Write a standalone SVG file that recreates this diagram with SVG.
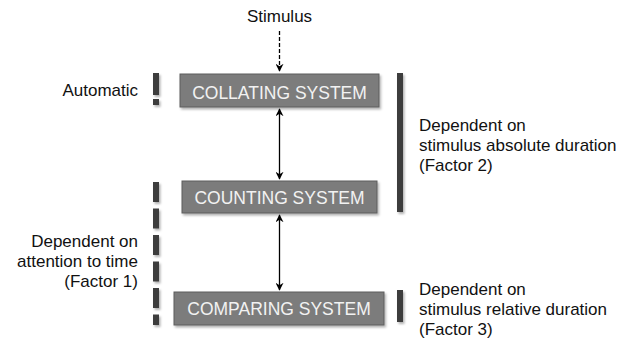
<svg xmlns="http://www.w3.org/2000/svg" width="636" height="341" viewBox="0 0 636 341">
<style>
.t{font-family:"Liberation Sans",Arial,sans-serif;font-size:17px;fill:#111}
.bt{font-family:"Liberation Sans",Arial,sans-serif;font-size:17.5px;fill:#f2f2f2;text-anchor:middle}
.box{fill:#7b7b7b;stroke:#5e5e5e;stroke-width:1}
.bar{fill:#3c3c3c}
.ln{stroke:#000;stroke-width:1.3;fill:none}
</style>
<defs>
<filter id="sh" filterUnits="userSpaceOnUse" x="0" y="0" width="636" height="341">
<feDropShadow dx="1.5" dy="2" stdDeviation="1.2" flood-color="#000" flood-opacity="0.3"/>
</filter>
<marker id="ah" viewBox="0 0 10 10" refX="9" refY="5" markerWidth="8" markerHeight="8" markerUnits="userSpaceOnUse" orient="auto-start-reverse">
<path d="M0,0 L10,5 L0,10 L3,5 Z" fill="#000"/>
</marker>
</defs>
<g id="connectors">
<line class="ln" x1="279.5" y1="31" x2="279.5" y2="71" stroke-dasharray="4 2" marker-end="url(#ah)"/>
<line class="ln" x1="279.5" y1="109" x2="279.5" y2="179" marker-start="url(#ah)" marker-end="url(#ah)"/>
<line class="ln" x1="279.5" y1="215" x2="279.5" y2="290" marker-start="url(#ah)" marker-end="url(#ah)"/>
</g>
<g id="stimulus"><text class="t" x="279.5" y="22" text-anchor="middle">Stimulus</text></g>
<g id="collating">
<rect class="box" x="180" y="74" width="199" height="33" filter="url(#sh)"/>
<text class="bt" x="279.5" y="99">COLLATING SYSTEM</text>
</g>
<g id="counting">
<rect class="box" x="182" y="181" width="195" height="32" filter="url(#sh)"/>
<text class="bt" x="279.5" y="204">COUNTING SYSTEM</text>
</g>
<g id="comparing">
<rect class="box" x="174" y="292" width="210" height="33" filter="url(#sh)"/>
<text class="bt" x="279" y="315">COMPARING SYSTEM</text>
</g>
<g id="automatic">
<g filter="url(#sh)">
<rect class="bar" x="153" y="73" width="6" height="22"/>
<rect class="bar" x="153" y="99" width="6" height="6"/>
</g>
<text class="t" x="138" y="96" text-anchor="end">Automatic</text>
</g>
<g id="factor1">
<g filter="url(#sh)">
<rect class="bar" x="153" y="182" width="6" height="20"/>
<rect class="bar" x="153" y="208.5" width="6" height="20"/>
<rect class="bar" x="153" y="235" width="6" height="20"/>
<rect class="bar" x="153" y="261.5" width="6" height="20"/>
<rect class="bar" x="153" y="288" width="6" height="20"/>
<rect class="bar" x="153" y="314.5" width="6" height="10.5"/>
</g>
<text class="t" x="138" y="247" text-anchor="end">Dependent on</text>
<text class="t" x="138" y="267" text-anchor="end">attention to time</text>
<text class="t" x="138" y="287" text-anchor="end">(Factor 1)</text>
</g>
<g id="factor2">
<rect class="bar" x="397" y="73" width="6" height="139" filter="url(#sh)"/>
<text class="t" x="419" y="131">Dependent on</text>
<text class="t" x="419" y="151">stimulus absolute duration</text>
<text class="t" x="419" y="171">(Factor 2)</text>
</g>
<g id="factor3">
<rect class="bar" x="397" y="290" width="6" height="32" filter="url(#sh)"/>
<text class="t" x="419" y="295">Dependent on</text>
<text class="t" x="419" y="315">stimulus relative duration</text>
<text class="t" x="419" y="335">(Factor 3)</text>
</g>
</svg>
